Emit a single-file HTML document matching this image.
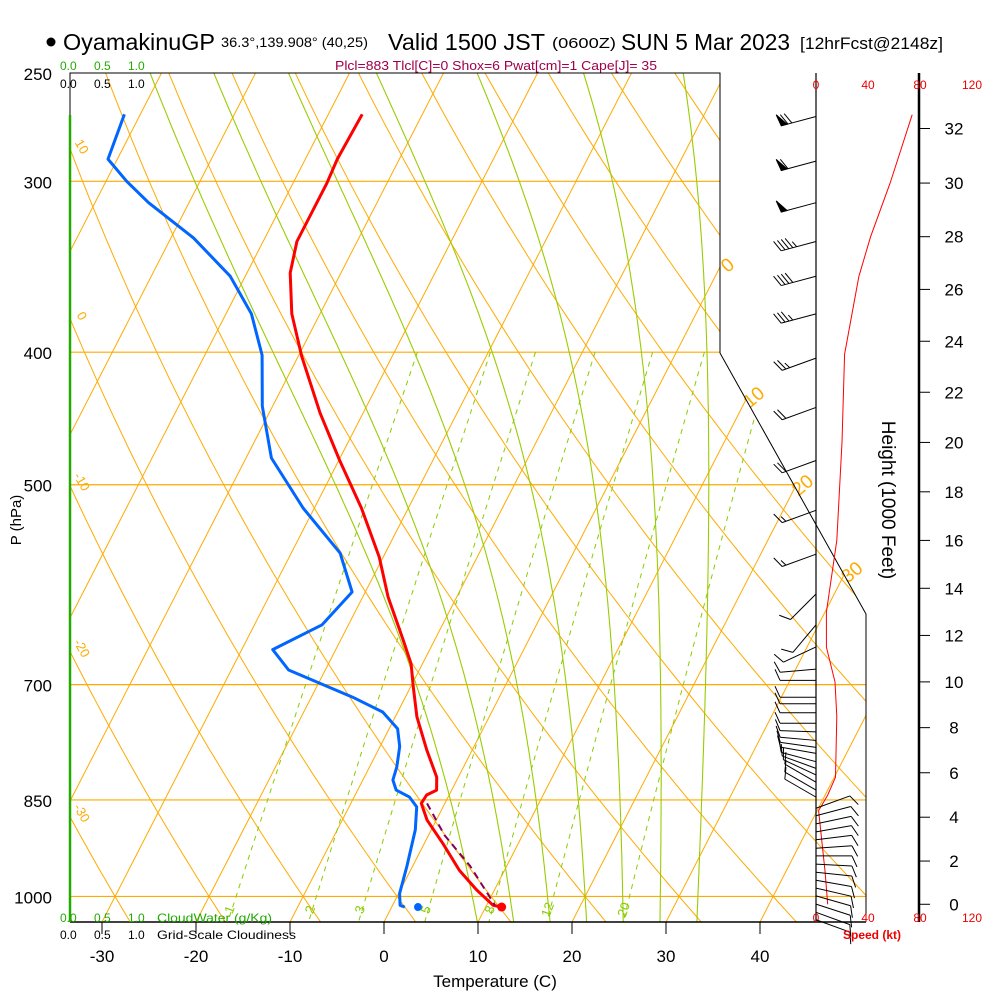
<!DOCTYPE html>
<html><head><meta charset="utf-8"><title>Skew-T OyamakinuGP</title>
<style>
html,body{margin:0;padding:0;background:#fff;}
svg{display:block;font-family:"Liberation Sans",sans-serif;}
</style></head>
<body>
<svg id="chart" width="1000" height="1000" viewBox="0 0 1000 1000" xmlns="http://www.w3.org/2000/svg">
<defs>
<clipPath id="plotclip"><polygon points="70,73 720,73 720,353 866,614 866,922 70,922"/></clipPath>
</defs>
<rect x="0" y="0" width="1000" height="1000" fill="#fff"/>
<g>
<circle cx="51" cy="42" r="4.5" fill="#000"/>
<text x="63" y="50" font-size="23" textLength="152" lengthAdjust="spacingAndGlyphs">OyamakinuGP</text>
<text x="221" y="47" font-size="14" textLength="147" lengthAdjust="spacingAndGlyphs">36.3°,139.908° (40,25)</text>
<text x="388" y="50" font-size="23" textLength="157" lengthAdjust="spacingAndGlyphs">Valid 1500 JST</text>
<text x="552" y="48" font-size="15" textLength="64" lengthAdjust="spacingAndGlyphs">(0600Z)</text>
<text x="621" y="50" font-size="23" textLength="169" lengthAdjust="spacingAndGlyphs">SUN 5 Mar 2023</text>
<text x="800" y="49" font-size="17" textLength="143" lengthAdjust="spacingAndGlyphs">[12hrFcst@2148z]</text>
<text x="335" y="70" font-size="13" fill="#a0004a" textLength="322" lengthAdjust="spacingAndGlyphs">Plcl=883 Tlcl[C]=0 Shox=6 Pwat[cm]=1 Cape[J]= 35</text>
</g>
<g id="grid" clip-path="url(#plotclip)"></g>
<g id="gridlabels"></g>
<g id="frame" stroke="#000" fill="none">
<polyline points="70,115 70,73 720,73 720,353 866,614 866,922" stroke-width="1"/>
<line x1="70" y1="922" x2="866" y2="922" stroke-width="1.5"/>
<line x1="70" y1="115" x2="70" y2="922" stroke="#22aa00" stroke-width="2.5"/>
<line x1="816" y1="73" x2="816" y2="922" stroke-width="1.2"/>
<line x1="919" y1="73" x2="919" y2="922" stroke-width="2.5"/>
</g>
<g id="axes" font-size="16"></g>
<g id="profiles"></g>
<g id="winds"></g>
<g font-size="12">
<text x="60" y="70" fill="#22aa00">0.0</text>
<text x="94" y="70" fill="#22aa00">0.5</text>
<text x="128" y="70" fill="#22aa00">1.0</text>
<text x="60" y="88" fill="#000">0.0</text>
<text x="94" y="88" fill="#000">0.5</text>
<text x="128" y="88" fill="#000">1.0</text>
<text x="60" y="922" fill="#22aa00">0.0</text>
<text x="94" y="922" fill="#22aa00">0.5</text>
<text x="128" y="922" fill="#22aa00">1.0</text>
<text x="157" y="922" fill="#22aa00" textLength="115" lengthAdjust="spacingAndGlyphs">CloudWater (g/Kg)</text>
<text x="60" y="939" fill="#000">0.0</text>
<text x="94" y="939" fill="#000">0.5</text>
<text x="128" y="939" fill="#000">1.0</text>
<text x="157" y="939" fill="#000" textLength="139" lengthAdjust="spacingAndGlyphs">Grid-Scale Cloudiness</text>
</g>
<text x="495" y="987" font-size="17" text-anchor="middle">Temperature (C)</text>
<text x="0" y="0" font-size="15" text-anchor="middle" transform="translate(21,520) rotate(-90)">P (hPa)</text>
<text x="0" y="0" font-size="19" text-anchor="middle" transform="translate(882,500) rotate(90)">Height (1000 Feet)</text>
<text x="872" y="939" font-size="12" font-weight="bold" fill="#e00" text-anchor="middle">Speed (kt)</text>
</svg>
<script>
// ---- data ----
const tempP=[268,289,301,332,350,375,403,443,480,520,565,604,650,676,703,739,782,818,836,843,855,879,915,957,989,1015,1018];
const tempC=[-46.4,-46.6,-46.4,-46.4,-45.4,-43.0,-39.6,-34.6,-29.9,-25.0,-20.4,-17.3,-13.3,-11.2,-9.7,-7.7,-4.8,-2.3,-1.6,-2.4,-2.5,-1.0,2.0,5.2,8.1,10.7,11.7];
const dewP=[268,289,300,311,330,352,375,402,438,478,520,561,599,633,660,683,715,733,754,777,804,822,836,846,860,894,951,995,1015,1018];
const dewC=[-71.7,-71.0,-67.8,-64.3,-57.6,-51.6,-47.3,-43.9,-41.1,-37.3,-31.2,-24.8,-21.4,-22.8,-26.7,-23.9,-15.6,-11.6,-9.1,-7.9,-7.1,-6.8,-5.9,-4.1,-2.8,-1.7,-0.6,0.1,0.8,1.4];
const parcelP=[855,902,950,1015];
const parcelC=[-1.9,1.7,6.1,10.9];
const sfcP=1018;
const sfcT=11.7;
const sfcTd=2.8;
const spdH=[0,1.5,4.3,5,5.8,8.5,10,11.5,13,16,20,23.5,26.5,28,30,32.5];
const spdKt=[9,7,2,9,15,16,14.6,8,8,16,20,22,33,42,57,74];
const barbP=[269,290,311,332,352,375,404,439,480,522,562,601,633,657,682,695,715,723,734,747,758,769,778,786,797,806,815,825,836,846,862,873,885,897,909,922,934,947,960,973,986,999,1013,1027,1040];
const barbDir=[255,255,255,255,255,255,250,250,250,250,250,225,220,245,265,270,270,270,270,270,272,275,278,280,285,290,295,300,300,300,70,75,78,80,83,86,90,93,96,100,103,106,108,110,110];
const barbKt=[70,60,50,45,40,35,25,20,20,15,15,10,10,10,10,10,10,10,10,10,10,10,10,10,10,10,10,10,10,10,10,8,8,8,8,8,8,8,8,8,8,8,8,8,8];
const pLevels=[300,400,500,700,850,1000];
const tTicks=[-30,-20,-10,0,10,20,30,40];
const hTicks=[0,2,4,6,8,10,12,14,16,18,20,22,24,26,28,30,32];
const spdTicks=[0,40,80,120];
const thetaList=[-40,-30,-20,-10,0,10,20,30,40,50,60,70,80,90,100,110,120,130,140];
const thwList=[8,12,16,20,24,28,32];
const mixList=[1,2,3,5,8,12,20];
const isoList=[-120,-110,-100,-90,-80,-70,-60,-50,-40,-30,-20,-10,0,10,20,30,40];
const dryLabels=[10,0,-10,-20,-30];
const isoLabels=[0,10,20,30];

// ---- scales ----
const NS='http://www.w3.org/2000/svg';
function yP(p){return 73+594*Math.log(p/250);}
function xT(T,y){return 384+9.4*T+0.513*(922-y);}
function hToP(hk){const m=hk*304.8;return 1013.25*Math.pow(1-2.25577e-5*m,5.2559);}
function xSpd(k){return 816+1.3*k;}
function mk(tag,attrs,parent){const e=document.createElementNS(NS,tag);for(const k in attrs)e.setAttribute(k,attrs[k]);parent.appendChild(e);return e;}
function ptsTP(P,T){return P.map((p,i)=>{const y=yP(p);return xT(T[i],y).toFixed(1)+','+y.toFixed(1);}).join(' ');}
const grid=document.getElementById('grid');
const glab=document.getElementById('gridlabels');
const axes=document.getElementById('axes');
const prof=document.getElementById('profiles');
const winds=document.getElementById('winds');
const ORANGE='#ffaa00';

// isobars
pLevels.forEach(p=>{const y=yP(p);
 const el=mk('line',{x1:70,y1:y,x2:870,y2:y,stroke:ORANGE,'stroke-width':1.2},grid);
 
 
});
// isotherms
isoList.forEach(T=>{const yb=1050,yt=73;
 const el=mk('line',{x1:xT(T,yb),y1:yb,x2:xT(T,yt),y2:yt,stroke:ORANGE,'stroke-width':1},grid);
 
 
});
// dry adiabats
thetaList.forEach(th=>{const pts=[];for(let p=240;p<=1060;p+=10){const T=(th+273.15)*Math.pow(p/1000,0.286)-273.15;const y=yP(p);pts.push(xT(T,y).toFixed(1)+','+y.toFixed(1));}
 const el=mk('polyline',{points:pts.join(' '),fill:'none',stroke:ORANGE,'stroke-width':1},grid);
 
 
});
// moist adiabats
function esat(Tc){return 6.112*Math.exp(17.67*Tc/(Tc+243.5));}
function dTdp(T,p){const e=esat(T-273.15);const rs=0.622*e/(p-e);return (287*T+2.5e6*rs)/(1005+2.5e6*2.5e6*rs*0.622/(287*T*T))/p;}
thwList.forEach(tw=>{const up=[];let T=tw+273.15,p=1000;
 while(p>=240){up.push([p,T]);T-=dTdp(T,p)*5;p-=5;}
 const dn=[];T=tw+273.15;p=1000;while(p<=1060){T+=dTdp(T,p)*5;p+=5;dn.push([p,T]);}
 const all=dn.reverse().concat(up);
 const pts=all.map(a=>{const y=yP(a[0]);return xT(a[1]-273.15,y).toFixed(1)+','+y.toFixed(1);});
 const el=mk('polyline',{points:pts.join(' '),fill:'none',stroke:'#99cc00','stroke-width':1.1},grid);
 
 
});
// mixing ratio lines
mixList.forEach(w=>{const pts=[];for(let p=400;p<=1060;p+=10){const e=w*p/(622+w);const l=Math.log(e/6.112);const Td=243.5*l/(17.67-l);const y=yP(p);pts.push(xT(Td,y).toFixed(1)+','+y.toFixed(1));}
 const el=mk('polyline',{points:pts.join(' '),fill:'none',stroke:'#88cc00','stroke-width':1,'stroke-dasharray':'5,5'},grid);
 
 
 const p=1018,e=w*p/(622+w),l=Math.log(e/6.112),Td=243.5*l/(17.67-l),y=yP(p)+4;
 const t=mk('text',{x:0,y:0,transform:'translate('+(xT(Td,y)+3).toFixed(1)+','+y.toFixed(1)+') rotate(-70)','font-size':13,fill:'#88cc00','text-anchor':'middle'},glab);
 t.textContent=String(w);
 
 
});
// dry adiabat labels at left edge
dryLabels.forEach(th=>{let best=null;for(let p=250;p<=1050;p+=1){const T=(th+273.15)*Math.pow(p/1000,0.286)-273.15;const y=yP(p);const x=xT(T,y);if(x>=70){best=[x,y];break;}}
 if(!best)return;
 const t=mk('text',{x:0,y:0,transform:'translate(78,'+(best[1]-2).toFixed(1)+') rotate(60)','font-size':13,fill:ORANGE,'text-anchor':'middle'},glab);
 t.textContent=String(th);
 
 
});
// isotherm labels along right boundary
function boundX(y){if(y<=353)return 720;if(y>=614)return 866;return 720+146*(y-353)/261;}
isoLabels.forEach(T=>{let pos=null;for(let y=73;y<=922;y+=1){const x=xT(T,y);if(x<=boundX(y)){pos=[x,y];break;}}
 if(!pos)return;
 const t=mk('text',{x:0,y:0,transform:'translate('+(pos[0]+12).toFixed(1)+','+(pos[1]+2).toFixed(1)+') rotate(-40)','font-size':19,fill:ORANGE,'text-anchor':'middle'},glab);
 t.textContent=String(T);
 
 
});
// pressure labels
pLevels.concat([250]).forEach(p=>{const t=mk('text',{x:52,y:yP(p)+7,'text-anchor':'end','font-size':17},axes);
 t.textContent=String(p);
 
 
});
// temperature ticks
tTicks.forEach(T=>{const x=xT(T,922);
 const l=mk('line',{x1:x,y1:922,x2:x,y2:934,stroke:'#000','stroke-width':1},axes);
 
 
 const t=mk('text',{x:x,y:962,'text-anchor':'middle','font-size':17},axes);
 t.textContent=String(T);
 
 
});
// height ticks
hTicks.forEach(h=>{const y=yP(hToP(h));
 const l=mk('line',{x1:919,y1:y,x2:930,y2:y,stroke:'#000','stroke-width':1},axes);
 
 
 const t=mk('text',{x:954,y:y+6,'text-anchor':'middle','font-size':17},axes);
 t.textContent=String(h);
 
 
});
// speed ticks
spdTicks.forEach(k=>{const x=xSpd(k);
 const t1=mk('text',{x:x,y:89,'text-anchor':'middle','font-size':12,fill:'#e00'},axes);
 t1.textContent=String(k);
 
 
 const t2=mk('text',{x:x,y:922,'text-anchor':'middle','font-size':12,fill:'#e00'},axes);
 t2.textContent=String(k);
 
 
});
// profiles
const dew=mk('polyline',{points:ptsTP(dewP,dewC),fill:'none',stroke:'#0066ff','stroke-width':3,'stroke-linejoin':'round'},prof);


const tmp=mk('polyline',{points:ptsTP(tempP,tempC),fill:'none',stroke:'#ff0000','stroke-width':3,'stroke-linejoin':'round'},prof);


const par=mk('polyline',{points:ptsTP(parcelP,parcelC),fill:'none',stroke:'#800060','stroke-width':2,'stroke-dasharray':'7,5'},prof);


const ys=yP(sfcP);
const st=mk('circle',{cx:xT(sfcT,ys),cy:ys,r:4.5,fill:'#ff0000'},prof);


const sd=mk('circle',{cx:xT(sfcTd,ys),cy:ys,r:4,fill:'#0066ff'},prof);


// wind speed line
const sp=mk('polyline',{points:spdH.map((h,i)=>xSpd(spdKt[i]).toFixed(1)+','+yP(hToP(h)).toFixed(1)).join(' '),fill:'none',stroke:'#ff0000','stroke-width':1},winds);


// wind barbs
barbP.forEach((p,i)=>{const y=yP(p),x=816;const d=barbDir[i]*Math.PI/180;
 const ux=Math.sin(d),uy=-Math.cos(d);const L=36;
 const tx=x+ux*L,ty=y+uy*L;
 const g=mk('g',{stroke:'#000','stroke-width':1,fill:'#000'},winds);
 
 
 mk('line',{x1:x,y1:y,x2:tx,y2:ty},g);
 const px=-uy,py=ux;
 let k=Math.round(barbKt[i]/5)*5;let pos=0;
 while(k>=50){const bx=tx-ux*pos,by=ty-uy*pos;const cx=bx-ux*6,cy=by-uy*6;
  mk('polygon',{points:bx+','+by+' '+(bx+px*12+ux*2)+','+(by+py*12+uy*2)+' '+cx+','+cy},g);k-=50;pos+=7;}
 while(k>=10){const bx=tx-ux*pos,by=ty-uy*pos;mk('line',{x1:bx,y1:by,x2:bx+px*11+ux*5,y2:by+py*11+uy*5},g);k-=10;pos+=4;}
 if(k>=5){if(pos===0)pos=4;const bx=tx-ux*pos,by=ty-uy*pos;mk('line',{x1:bx,y1:by,x2:bx+px*6+ux*3,y2:by+py*6+uy*3},g);}
});
</script>
</body></html>
